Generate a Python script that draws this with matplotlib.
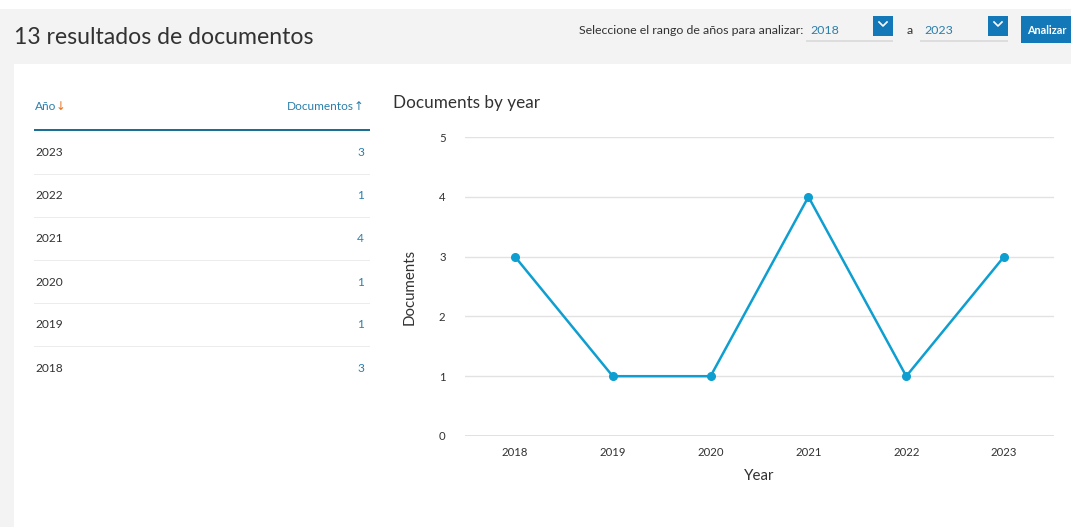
import matplotlib.pyplot as plt
from matplotlib.patches import Rectangle
from matplotlib.lines import Line2D

# data
years = [2018, 2019, 2020, 2021, 2022, 2023]
documents = [3, 1, 1, 4, 1, 3]
total_docs = 13
year_from = '2018'
year_to = '2023'

W, H = 1071, 527
LINE = '#0e9fd0'
BLUE = '#2a7fab'
DARK = '#323232'
plt.rcParams['font.family'] = ['Lato', 'DejaVu Sans']

fig = plt.figure(figsize=(W / 100, H / 100), dpi=100)


def fx(x):
    return x / W


def fy(y):
    return 1 - y / H


def rect(x0, y0, x1, y1, color, z=0):
    fig.patches.append(Rectangle((fx(x0), fy(y1)), fx(x1 - x0), (y1 - y0) / H,
                                 transform=fig.transFigure, color=color,
                                 zorder=z, lw=0))


# page background
rect(0, 9, W, H, '#f3f3f3')
rect(14, 64, W, H, 'white', 1)

fig.text(fx(14), fy(37), f'{total_docs} resultados de documentos', fontsize=16.6,
         color=DARK, va='center', ha='left')

# year range selector
fig.text(fx(803), fy(31), 'Seleccione el rango de años para analizar:', fontsize=8.9,
         color=DARK, va='center', ha='right')
for x0, x1, label in [(806, 893, year_from), (920, 1008, year_to)]:
    fig.text(fx(x0 + 4), fy(31), label, fontsize=8.9, color=BLUE, va='center')
    rect(x0, 40, x1, 41.5, '#dddddd', 2)
    rect(x1 - 20, 16, x1, 36, '#1278b8', 2)
    cx = x1 - 10
    fig.lines.append(Line2D([fx(cx - 4), fx(cx), fx(cx + 4)], [fy(22), fy(26), fy(22)],
                            transform=fig.transFigure, color='white', lw=1.2,
                            zorder=3))
fig.text(fx(910), fy(31), 'a', fontsize=8.9, color=DARK, va='center', ha='center')
rect(1021, 16, W, 43, '#1278b8', 2)
fig.text(fx(1027), fy(30), 'Analizar', fontsize=7.8, color='white', va='center',
         ha='left', zorder=3, fontweight='bold')

# table on the left
fig.text(fx(35), fy(106), 'Año', fontsize=8.6, color=BLUE, va='center', zorder=3)
fig.text(fx(56), fy(107), '↓', fontsize=8.5, color='#e9711c', va='center', zorder=3,
         family='DejaVu Sans')
fig.text(fx(354), fy(106), 'Documentos', fontsize=8.6, color=BLUE, va='center',
         ha='right', zorder=3)
fig.text(fx(359), fy(107), '↑', fontsize=8.5, color=BLUE, va='center', ha='center',
         zorder=3, family='DejaVu Sans')
rect(34, 129, 370, 131, '#1b6e94', 3)
for i, (yr, n) in enumerate(zip(years[::-1], documents[::-1])):
    yc = 153 + i * 43
    fig.text(fx(35), fy(yc), str(yr), fontsize=8.6, color=DARK, va='center', zorder=3)
    fig.text(fx(364), fy(yc), str(n), fontsize=8.6, color=BLUE, va='center',
             ha='right', zorder=3)
    if i < len(years) - 1:
        rect(34, yc + 21, 370, yc + 22, '#ececec', 3)

# chart
fig.text(fx(393), fy(103), 'Documents by year', fontsize=12.3, color=DARK,
         va='center', zorder=3)
ax = fig.add_axes([fx(465), fy(436), fx(1054 - 465), (436 - 137) / H], zorder=4)
ax.patch.set_alpha(0)
ax.plot(years, documents, color=LINE, lw=1.8, marker='o', markersize=5.5,
        clip_on=False)
ax.set_xlim(2017.49, 2023.51)
ax.set_ylim(0, 5)
ax.set_xticks(years)
ax.set_yticks(range(6))
ax.grid(axis='y', color='#e2e2e2', lw=1)
ax.set_axisbelow(True)
for s in ax.spines.values():
    s.set_visible(False)
ax.axhline(0, color='#d6dde6', lw=1.2, zorder=0)
ax.tick_params(length=0, labelsize=8.2, colors=DARK)
ax.tick_params(axis='y', pad=14)
ax.tick_params(axis='x', pad=8)
ax.set_xlabel('Year', fontsize=10.8, color=DARK, labelpad=8)
ax.set_ylabel('Documents', fontsize=10.8, color=DARK, labelpad=16)

fig.savefig('out.png', dpi=100)
